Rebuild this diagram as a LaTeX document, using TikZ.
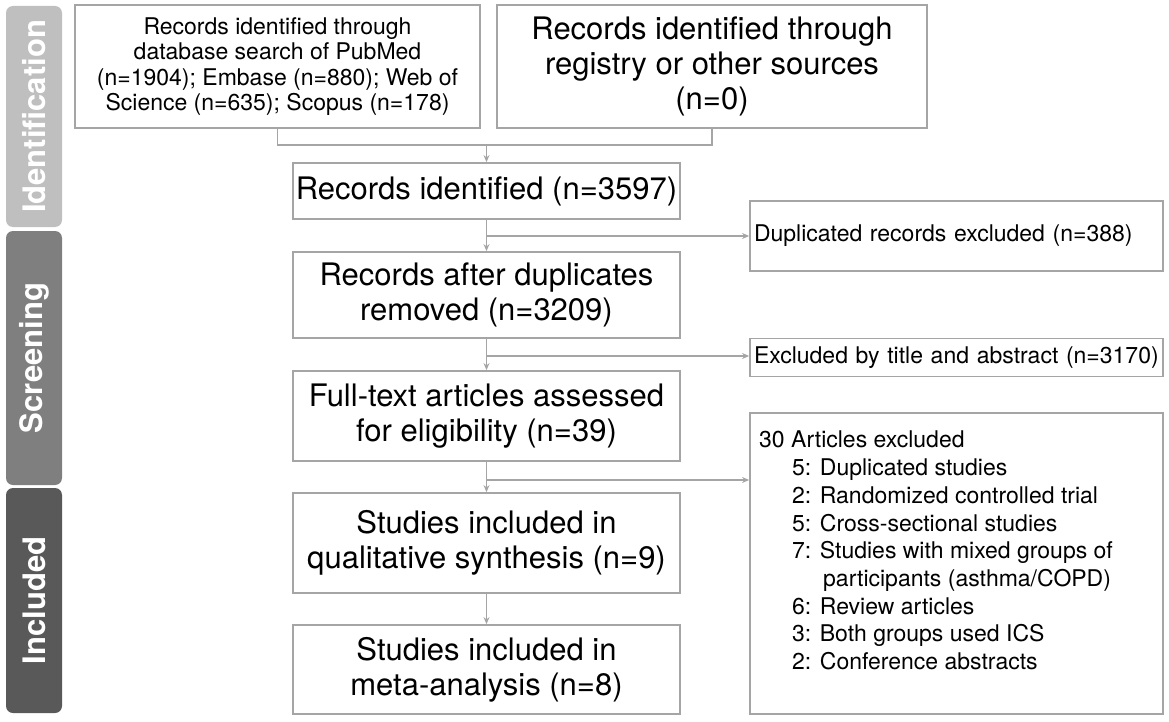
\documentclass[tikz,border=0pt]{standalone}
\usepackage{fontspec}
\setmainfont{texgyreheros}[Extension=.otf,UprightFont=*-regular,BoldFont=*-bold]
\usetikzlibrary{arrows.meta}
\definecolor{lineGray}{RGB}{165,165,165}
\definecolor{stageLight}{RGB}{191,191,191}
\definecolor{stageMid}{RGB}{127,127,127}
\definecolor{stageDark}{RGB}{89,89,89}

\begin{document}
\begin{tikzpicture}
[x=1pt,y=-1pt,
  boxDecorate/.style={shape=rectangle,draw=lineGray,line width=1.8pt,inner sep=0pt,align=center,font=\fontsize{31}{35}\selectfont},%
  noteDecorate/.style={shape=rectangle,draw=lineGray,line width=1.8pt,inner xsep=4pt,inner ysep=0pt,text width=405pt,align=left,font=\fontsize{23}{26}\selectfont},%
  stageDecorate/.style={shape=rectangle,rounded corners=7pt,rotate=90,minimum height=56pt,inner sep=0pt,text=white,font=\fontsize{31}{35}\selectfont\bfseries},%
  lineDecorate/.style={draw=lineGray,line width=1.8pt},%
  arrowDecorate/.style={lineDecorate,-{Stealth[length=7pt,width=6pt]}}]
\useasboundingbox (0,0) rectangle (1169,722);
%% stage bars
\foreach \stagename/\y/\barlen/\shade/\label in {
  stageId/116.5/221/stageLight/Identification,
  stageScr/358/254/stageMid/Screening,
  stageInc/600.5/225/stageDark/Included}
{
  \node (\stagename) at (34,\y) [stageDecorate,fill=\shade,minimum width=\barlen pt] {\label};
}
%% sources
\node (recDb) at (277.5,66.5) [boxDecorate,minimum width=405pt,minimum height=123pt,font=\fontsize{23}{25.5}\selectfont]
  {Records identified through\\ database search of PubMed\\ (n=1904); Embase (n=880); Web of\\ Science (n=635); Scopus (n=178)};
\node (recReg) at (712,66.5) [boxDecorate,minimum width=430pt,minimum height=123pt]
  {Records identified through\\ registry or other sources\\ (n=0)};
%% main column
\foreach \nodename/\y/\h/\txt in {
  recAll/191/56/{Records identified (n=3597)},
  recDedup/295/86/{Records after duplicates\\ removed (n=3209)},
  recFull/416/90/{Full-text articles assessed\\ for eligibility (n=39)},
  recQual/543/100/{Studies included in\\ qualitative synthesis (n=9)},
  recMeta/669.5/89/{Studies included in\\ meta-analysis (n=8)}}
{
  \node (\nodename) at (486.5,\y) [boxDecorate,minimum width=387pt,minimum height=\h pt] {\txt};
}
%% excluded
\node (exDup) at (956.5,236) [noteDecorate,minimum height=70pt] {Duplicated records excluded (n=388)};
\node (exTitle) at (956.5,357.5) [noteDecorate,minimum height=38pt] {Excluded by title and abstract (n=3170)};
\node (exFull) at (956.5,563.5) [noteDecorate,minimum height=301pt] {};
\node (exList) at (759,431) [anchor=north west,align=left,inner sep=0pt,font=\fontsize{23}{27.7}\selectfont]
  {30 Articles excluded\\
   \hspace*{33pt}5: Duplicated studies\\
   \hspace*{33pt}2: Randomized controlled trial\\
   \hspace*{33pt}5: Cross-sectional studies\\
   \hspace*{33pt}7: Studies with mixed groups of\\
   \hspace*{64pt}participants (asthma/COPD)\\
   \hspace*{33pt}6: Review articles\\
   \hspace*{33pt}3: Both groups used ICS\\
   \hspace*{33pt}2: Conference abstracts};
%% connectors
\coordinate (srcMerge) at (486.5,145);
\draw[lineDecorate] (recDb.south) |- (srcMerge) -| (recReg.south);
\draw[arrowDecorate] (srcMerge) -- (recAll.north);
\path
\foreach \startnode/\endnode in {
  recAll/recDedup, recDedup/recFull, recFull/recQual, recQual/recMeta}
{
  (\startnode) edge[arrowDecorate] (\endnode)
};
\foreach \branchname/\y/\target in {brDup/236/exDup, brTitle/356/exTitle, brFull/480/exFull}
{
  \coordinate (\branchname) at (486.5,\y);
  \draw[arrowDecorate] (\branchname) -- (\branchname -| \target.west);
}
\end{tikzpicture}
\end{document}
